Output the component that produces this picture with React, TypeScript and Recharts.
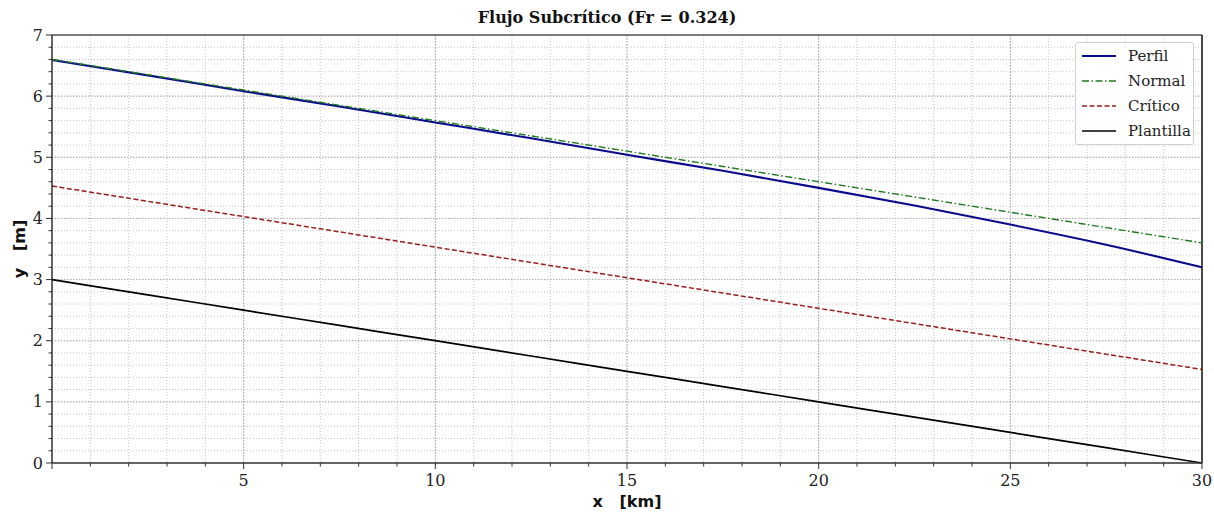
import React from "react";
import {
    LineChart,
    Line,
    XAxis,
    YAxis,
    CartesianGrid,
    ReferenceLine,
} from "recharts";

// distance along the channel [km]
const xKm = [0, 2.5, 5, 7.5, 10, 12.5, 15, 17.5, 20, 22.5, 25, 27.5, 30];
// water surface profile [m]
const perfil = [6.59, 6.34, 6.08, 5.83, 5.57, 5.31, 5.04, 4.78, 4.5, 4.21, 3.9, 3.57, 3.2];
// normal depth line [m]
const normal = [6.6, 6.35, 6.1, 5.85, 5.6, 5.35, 5.1, 4.85, 4.6, 4.35, 4.1, 3.85, 3.6];
// critical depth line [m]
const critico = [4.53, 4.28, 4.03, 3.78, 3.53, 3.28, 3.03, 2.78, 2.53, 2.28, 2.03, 1.78, 1.53];
// channel bed [m]
const plantilla = [3, 2.75, 2.5, 2.25, 2, 1.75, 1.5, 1.25, 1, 0.75, 0.5, 0.25, 0];

const xTicks = [0, 1, 2, 3, 4, 5, 6, 7, 8, 9, 10, 11, 12, 13, 14, 15, 16, 17, 18, 19, 20, 21, 22, 23, 24, 25, 26, 27, 28, 29, 30];
const xMajor = [5, 10, 15, 20, 25];
const yTicks = [
    0, 0.2, 0.4, 0.6, 0.8, 1, 1.2, 1.4, 1.6, 1.8, 2, 2.2, 2.4, 2.6, 2.8, 3, 3.2, 3.4, 3.6, 3.8,
    4, 4.2, 4.4, 4.6, 4.8, 5, 5.2, 5.4, 5.6, 5.8, 6, 6.2, 6.4, 6.6, 6.8, 7,
];
const yMajor = [1, 2, 3, 4, 5, 6];

const series = [
    { key: "perfil", name: "Perfil", color: "#0a0a8c", width: 2.1, dash: undefined },
    { key: "normal", name: "Normal", color: "#1f7a1f", width: 1.4, dash: "7 2.5 1.5 2.5" },
    { key: "critico", name: "Crítico", color: "#9b1c1c", width: 1.5, dash: "5 2.5" },
    { key: "plantilla", name: "Plantilla", color: "#000000", width: 1.7, dash: undefined },
];

const data = xKm.map((x, i) => ({
    x,
    perfil: perfil[i],
    normal: normal[i],
    critico: critico[i],
    plantilla: plantilla[i],
}));

const serif = "'DejaVu Serif', serif";
const axisColor = "#333";

function XTick(props: any) {
    const { x, y, payload } = props;
    const v = payload.value as number;
    const major = v % 5 === 0;
    return (
        <g>
            <line x1={x} x2={x} y1={y} y2={y + (major ? 6 : 3.5)} stroke={axisColor} strokeWidth={1} />
            {major && v !== 0 && (
                <text x={x} y={y + 23} textAnchor="middle" fontFamily={serif} fontSize={16} fill="#222">
                    {v}
                </text>
            )}
        </g>
    );
}

function YTick(props: any) {
    const { x, y, payload } = props;
    const v = payload.value as number;
    const major = Number.isInteger(v);
    return (
        <g>
            <line x1={x} x2={x - (major ? 6 : 3.5)} y1={y} y2={y} stroke={axisColor} strokeWidth={1} />
            {major && (
                <text x={x - 9} y={y + 5.5} textAnchor="end" fontFamily={serif} fontSize={16} fill="#222">
                    {v}
                </text>
            )}
        </g>
    );
}

function LegendBox() {
    return (
        <div
            style={{
                position: "absolute",
                left: 1075,
                top: 42,
                width: 119,
                height: 103,
                border: "1px solid #d0d0d0",
                borderRadius: 3,
                background: "rgba(255,255,255,0.85)",
                boxSizing: "border-box",
                padding: "0 0 0 5px",
            }}
        >
            {series.map((s) => (
                <div key={s.key} style={{ display: "flex", alignItems: "center", height: 25 }}>
                    <svg width={36} height={10}>
                        <line
                            x1={1}
                            x2={35}
                            y1={5}
                            y2={5}
                            stroke={s.color}
                            strokeWidth={s.width}
                            strokeDasharray={s.dash}
                        />
                    </svg>
                    <span style={{ marginLeft: 11, fontFamily: serif, fontSize: 15, color: "#222" }}>{s.name}</span>
                </div>
            ))}
        </div>
    );
}

export default function App() {
    return (
        <div style={{ position: "absolute", left: 0, top: 0, width: 1214, height: 512, background: "#fff" }}>
            <div
                style={{
                    position: "absolute",
                    top: 8,
                    left: 0,
                    width: 1214,
                    textAlign: "center",
                    fontFamily: serif,
                    fontWeight: "bold",
                    fontSize: 16,
                    color: "#111",
                }}
            >
                Flujo Subcrítico (Fr = 0.324)
            </div>
            <LineChart
                width={1214}
                height={512}
                data={data}
                margin={{ top: 35, right: 12, bottom: 24, left: 12 }}
            >
                <CartesianGrid stroke="#bdbdbd" strokeDasharray="1 2" strokeWidth={0.9} />
                {xMajor.map((v) => (
                    <ReferenceLine key={"gx" + v} x={v} stroke="#ababab" strokeDasharray="1.5 1.5" />
                ))}
                {yMajor.map((v) => (
                    <ReferenceLine key={"gy" + v} y={v} stroke="#ababab" strokeDasharray="1.5 1.5" />
                ))}
                <ReferenceLine y={7} stroke="#555" strokeWidth={1.5} />
                <ReferenceLine x={30} stroke="#111" strokeWidth={1.5} />
                <XAxis
                    dataKey="x"
                    type="number"
                    domain={[0, 30]}
                    ticks={xTicks}
                    interval={0}
                    tickSize={0}
                    tickMargin={0}
                    tickLine={false}
                    tick={<XTick />}
                    height={25}
                    axisLine={{ stroke: axisColor, strokeWidth: 1.5 }}
                />
                <YAxis
                    type="number"
                    domain={[0, 7]}
                    ticks={yTicks}
                    interval={0}
                    tickSize={0}
                    tickMargin={0}
                    tickLine={false}
                    tick={<YTick />}
                    width={40}
                    axisLine={{ stroke: axisColor, strokeWidth: 1.5 }}
                />
                {series.map((s) => (
                    <Line
                        key={s.key}
                        dataKey={s.key}
                        name={s.name}
                        type="monotone"
                        stroke={s.color}
                        strokeWidth={s.width}
                        strokeDasharray={s.dash}
                        dot={false}
                        activeDot={false}
                        isAnimationActive={false}
                    />
                ))}
            </LineChart>
            <LegendBox />
            <div
                style={{
                    position: "absolute",
                    top: 492,
                    left: 52,
                    width: 1150,
                    textAlign: "center",
                    fontFamily: "'DejaVu Sans', sans-serif",
                    fontWeight: "bold",
                    fontSize: 16,
                    whiteSpace: "pre",
                    color: "#111",
                }}
            >
                {"x   [km]"}
            </div>
            <div
                style={{
                    position: "absolute",
                    left: 19,
                    top: 249,
                    transform: "translate(-50%, -50%) rotate(-90deg)",
                    fontFamily: "'DejaVu Sans', sans-serif",
                    fontWeight: "bold",
                    fontSize: 16,
                    whiteSpace: "pre",
                    color: "#111",
                }}
            >
                {"y   [m]"}
            </div>
        </div>
    );
}
